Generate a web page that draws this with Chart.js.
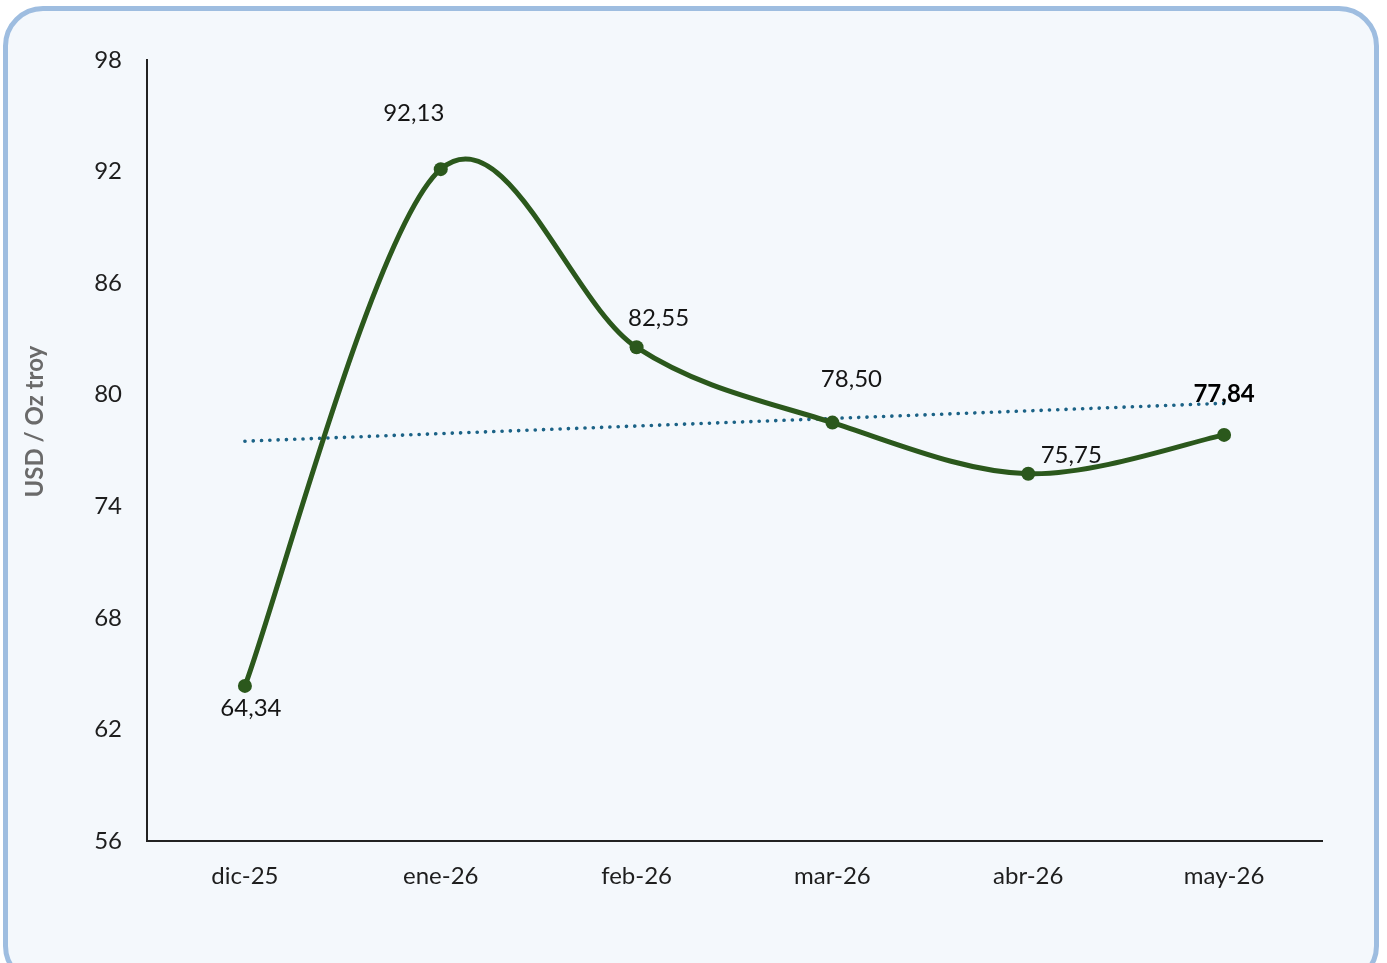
<!DOCTYPE html>
<html>
<head>
<meta charset="utf-8">
<script src="https://cdn.jsdelivr.net/npm/chart.js@4.4.1/dist/chart.umd.min.js"></script>
<style>
  html, body { margin: 0; padding: 0; background: #ffffff; width: 1387px; height: 963px; overflow: hidden; }
  #card { position: absolute; left: 3px; top: 6px; width: 1366px; height: 970px; border: 5px solid #9ebde0; border-radius: 40px; background: #f4f8fc; }
  #wrap { position: absolute; left: 0; top: 0; width: 1387px; height: 963px; }
</style>
</head>
<body>
<div id="card"></div>
<div id="wrap"><canvas id="c" width="1387" height="963"></canvas></div>
<script>
const categories = ['dic-25', 'ene-26', 'feb-26', 'mar-26', 'abr-26', 'may-26'];
const prices = [64.34, 92.13, 82.55, 78.50, 75.75, 77.84];
const priceLabels = ['64,34', '92,13', '82,55', '78,50', '75,75', '77,84'];
const trendValues = [77.50, null, null, null, null, 79.54];
const yTicks = [56, 62, 68, 74, 80, 86, 92, 98];
const yTitle = 'USD / Oz troy';

const FONT = 'Lato, "Noto Sans", sans-serif';
const FS = 24;
const labelOffsets = [[6, 22], [-27, -56], [22, -29], [19, -43], [43, -18], [0, -41]];
const boldLabel = [false, false, false, false, false, true];

// Excel-like smoothing: uniform Catmull-Rom control points (1/6 of neighbour chord)
function excelSmooth(chart) {
  const meta = chart.getDatasetMeta(0);
  if (!meta || !meta.dataset) return;
  meta.dataset.updateControlPoints(chart.chartArea, 'x');
  const pts = meta.data;
  const n = pts.length;
  for (let i = 0; i < n; i++) {
    const p = pts[i];
    const prev = pts[Math.max(i - 1, 0)];
    const next = pts[Math.min(i + 1, n - 1)];
    const dx = (next.x - prev.x) / 6;
    const dy = (next.y - prev.y) / 6;
    p.cp1x = p.x - dx; p.cp1y = p.y - dy;
    p.cp2x = p.x + dx; p.cp2y = p.y + dy;
  }
  meta.dataset._path = undefined;
}

const smoothPlugin = {
  id: 'excelSmooth',
  afterDatasetsUpdate(chart) { excelSmooth(chart); },
  beforeDatasetsDraw(chart) { excelSmooth(chart); }
};

const labelPlugin = {
  id: 'pointLabels',
  afterDatasetsDraw(chart) {
    const meta = chart.getDatasetMeta(0);
    const ctx = chart.ctx;
    ctx.save();
    ctx.textAlign = 'center';
    ctx.textBaseline = 'middle';
    meta.data.forEach((pt, i) => {
      ctx.font = (boldLabel[i] ? 'bold ' : '') + FS + 'px ' + FONT;
      ctx.fillStyle = boldLabel[i] ? '#000000' : '#151515';
      ctx.fillText(priceLabels[i], pt.x + labelOffsets[i][0], pt.y + labelOffsets[i][1]);
    });
    // y axis title
    const ya = chart.scales.y;
    ctx.translate(35, ya.getPixelForValue(78.55));
    ctx.rotate(-Math.PI / 2);
    ctx.font = 'bold 24px ' + FONT;
    ctx.fillStyle = '#6a6a6a';
    ctx.fillText(yTitle, 0, 0);
    ctx.restore();
  }
};

new Chart(document.getElementById('c'), {
  type: 'line',
  data: {
    labels: categories,
    datasets: [
      {
        data: prices,
        borderColor: '#2b581c',
        backgroundColor: '#2b581c',
        borderWidth: 5,
        tension: 0.4,
        capBezierPoints: false,
        pointRadius: 7,
        pointHoverRadius: 7,
        pointBackgroundColor: '#2b581c',
        pointBorderWidth: 0,
        order: 1
      },
      {
        data: trendValues,
        spanGaps: true,
        borderColor: '#1b6286',
        borderWidth: 3.6,
        borderCapStyle: 'round',
        borderDash: [0.1, 8.2],
        pointRadius: 0,
        tension: 0,
        order: 2
      }
    ]
  },
  options: {
    responsive: false,
    animation: false,
    devicePixelRatio: 1,
    layout: { padding: { left: 0, top: 60, right: 65, bottom: 0 } },
    plugins: { legend: { display: false }, tooltip: { enabled: false } },
    scales: {
      x: {
        offset: true,
        grid: { display: false, drawTicks: false },
        border: { display: true, color: '#222222', width: 2 },
        ticks: { color: '#1e1e1e', font: { family: FONT, size: FS }, padding: 21, maxRotation: 0 },
        afterFit(scale) { scale.height = 122; }
      },
      y: {
        min: 56, max: 98,
        afterBuildTicks(scale) { scale.ticks = yTicks.map(v => ({ value: v })); },
        grid: { display: false, drawTicks: false },
        border: { display: true, color: '#222222', width: 2 },
        ticks: { color: '#1e1e1e', font: { family: FONT, size: FS }, padding: 25 },
        title: { display: false },
        afterFit(scale) { scale.width = 147; }
      }
    }
  },
  plugins: [smoothPlugin, labelPlugin]
});
</script>
</body>
</html>
